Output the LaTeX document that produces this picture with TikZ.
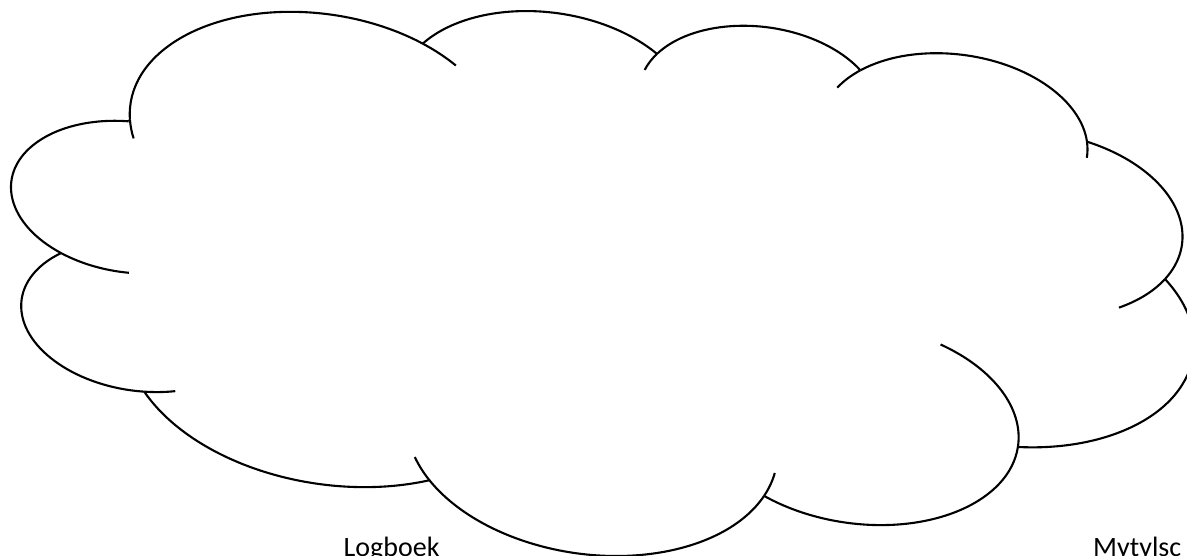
\documentclass[tikz,border=0pt]{standalone}
\usepackage{fontspec}
\setmainfont{Carlito}
\tikzset{
  cloudline/.style={line width=2.1pt, draw=black},
  labeltext/.style={font=\fontsize{28}{34}\selectfont, text=black, inner sep=0pt, anchor=base west}
}
% one lobe of the cloud outline: wR, hR, visual start angle, visual sweep
\newcommand\cloudarc[4]{%
  \pgfmathsetmacro\ta{#3}%
  \pgfmathsetmacro\tb{(#3)+(#4)}%
  \pgfmathsetmacro\pa{atan2((#1)*sin(\ta),(#2)*cos(\ta))}%
  \pgfmathsetmacro\pa{(\ta)+mod((\pa)-(\ta)+1260,360)-180}%
  \pgfmathsetmacro\pb{atan2((#1)*sin(\tb),(#2)*cos(\tb))}%
  \pgfmathsetmacro\pb{(\tb)+mod((\pb)-(\tb)+1260,360)-180}%
  \pgfmathsetmacro\ccu{(\cu)-(#1)*cos(\pa)}%
  \pgfmathsetmacro\ccv{(\cv)-(#2)*sin(\pa)}%
  \draw[cloudline] (\cu,\cv) arc[start angle=\pa, end angle=\pb, x radius=#1, y radius=#2];
  \pgfmathsetmacro\cu{(\ccu)+(#1)*cos(\pb)}%
  \pgfmathsetmacro\cv{(\ccv)+(#2)*sin(\pb)}%
}
% inner arc on the ellipse of the last lobe: wR, hR, visual from, visual to
\newcommand\innerarc[4]{%
  \pgfmathsetmacro\ia{atan2((#1)*sin(#3),(#2)*cos(#3))}%
  \pgfmathsetmacro\ia{(#3)+mod((\ia)-(#3)+1260,360)-180}%
  \pgfmathsetmacro\ib{atan2((#1)*sin(#4),(#2)*cos(#4))}%
  \pgfmathsetmacro\ib{(#4)+mod((\ib)-(#4)+1260,360)-180}%
  \pgfmathsetmacro\su{(\ccu)+(#1)*cos(\ia)}%
  \pgfmathsetmacro\sv{(\ccv)+(#2)*sin(\ia)}%
  \draw[cloudline] (\su,\sv) arc[start angle=\ia, end angle=\ib, x radius=#1, y radius=#2];
}
\begin{document}
\begin{tikzpicture}[x=1pt,y=1pt]
\useasboundingbox (0,0) rectangle (1187,556);
\begin{scope}[cm={0.2735,-0.0384,-0.0179,-0.1254,(49.0,631.4)}]
\def\cu{390}\def\cv{1437}
\cloudarc{675.3}{919.0}{-190.4875}{123.7805}
\innerarc{675.3}{919.0}{157.6544}{169.5125}
\innerarc{675.3}{919.0}{-66.7070}{-54.3876}
\cloudarc{533.3}{726.7}{-144.1024}{89.9452}
\cloudarc{436.5}{594.5}{-145.8079}{99.7230}
\innerarc{436.5}{594.5}{-163.4943}{-145.8079}
\cloudarc{485.7}{659.5}{-130.9861}{117.2417}
\innerarc{485.7}{659.5}{-149.1815}{-130.9861}
\innerarc{485.7}{659.5}{-13.7444}{1.1069}
\cloudarc{533.3}{727.3}{-78.7089}{109.0269}
\innerarc{533.3}{727.3}{30.3180}{58.8}
\cloudarc{677.5}{922.0}{-46.2673}{130.2690}
\cloudarc{578.5}{786.7}{0.6250}{114.0333}
\innerarc{578.5}{786.7}{-70.7}{0.6250}
\cloudarc{675.2}{921.5}{22.4516}{115.1726}
\innerarc{675.2}{921.5}{6.4533}{22.4516}
\innerarc{675.2}{921.5}{137.6242}{151.0}
\cloudarc{772.0}{1054.3}{66.2426}{75.7110}
\cloudarc{436.0}{591.8}{-274.9421}{146.7356}
\innerarc{436.0}{591.8}{73.6010}{85.0579}
\cloudarc{434.5}{594.5}{-246.8285}{152.5189}
\innerarc{434.5}{594.5}{86.7420}{113.1715}
\draw[cloudline] (\cu,\cv) -- (390,1437);
\end{scope}
\node[labeltext] (logboek) at (343.5,-1) {Logboek};
\node[labeltext] (mytylsc) at (1093,-1) {Mytylsc};
\end{tikzpicture}
\end{document}
